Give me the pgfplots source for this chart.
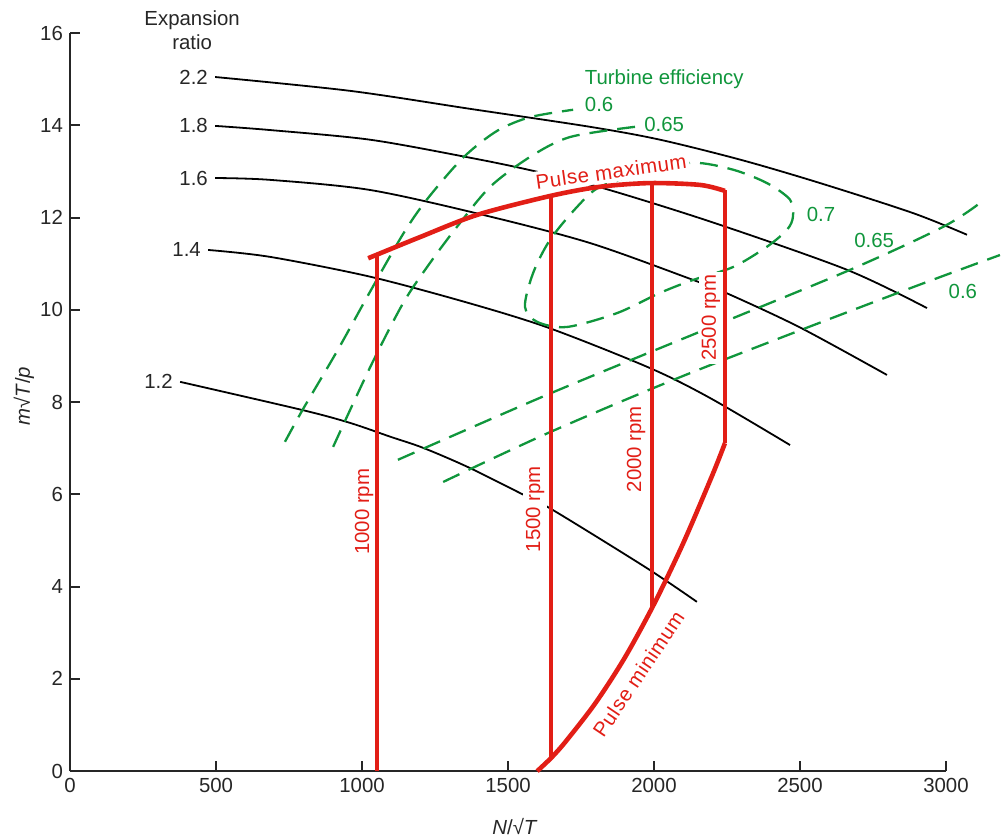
\documentclass[border=0pt]{standalone}
\usepackage{fontspec}
\setmainfont{Liberation Sans}
\usepackage{pgfplots}
\pgfplotsset{compat=1.18}
\definecolor{pred}{RGB}{226,30,22}
\definecolor{pgreen}{RGB}{16,150,60}
\begin{document}
\fontsize{10.2}{12}\selectfont
\begin{tikzpicture}
\begin{axis}[
 scale only axis, width=438pt, height=369pt,
 xmin=0,xmax=3000,ymin=0,ymax=16,
 axis x line*=bottom, axis y line*=left,
 axis line style={line width=1.2pt, black!85},
 xtick={0,500,...,3000}, ytick={0,2,...,16},
 tick align=inside, major tick length=5pt,
 tick style={line width=1pt, black!85},
 ticklabel style={font=\fontsize{10.2}{12}\selectfont, text=black!85},
 /pgf/number format/assume math mode=true,
 /pgf/number format/1000 sep={},
 clip=false,
]
% expansion ratio lines
\addplot[black, line width=0.9pt, smooth] coordinates {(497,15.05) (959,14.75) (1370,14.36) (1781,13.97) (2021,13.69) (2300,13.25) (2569,12.75) (2887,12.10) (3072,11.63)};
\addplot[black, line width=0.9pt, smooth] coordinates {(497,13.99) (685,13.90) (1028,13.69) (1370,13.30) (1576,13.03) (1815,12.66) (2200,11.90) (2661,10.87) (2935,10.04)};
\addplot[black, line width=0.9pt, smooth] coordinates {(497,12.86) (685,12.82) (1028,12.60) (1415,12.06) (1781,11.45) (2134,10.65) (2250,10.36) (2500,9.62) (2798,8.59)};
\addplot[black, line width=0.9pt, smooth] coordinates {(473,11.30) (685,11.15) (1028,10.72) (1365,10.15) (1644,9.60) (1986,8.74) (2192,8.09) (2466,7.07)};
\addplot[black, line width=0.9pt, smooth] coordinates {(377,8.44) (795,7.83) (959,7.55) (1097,7.25) (1209,7.01) (1360,6.60) (1541,6.03) (1654,5.66) (1976,4.40) (2147,3.67)};
% efficiency contours
\addplot[pgreen, line width=1.15pt, smooth, dash pattern=on 9pt off 5pt] coordinates {(736,7.14) (798,7.85) (914,9.1) (1028,10.4) (1141,11.65) (1223,12.4) (1346,13.3) (1462,13.88) (1576,14.18) (1723,14.34)};
\addplot[pgreen, line width=1.15pt, smooth, dash pattern=on 9pt off 5pt] coordinates {(901,7.03) (1028,8.76) (1141,10.15) (1233,11.02) (1325,11.80) (1439,12.67) (1576,13.32) (1713,13.75) (1935,13.97)};
\addplot[pgreen, line width=1.15pt, smooth, dash pattern=on 9pt off 5pt] coordinates {(1969,12.99) (2134,13.19) (2271,13.04) (2387,12.75) (2466,12.39) (2476,12.02) (2456,11.74) (2387,11.37) (2271,10.93) (2134,10.65) (2021,10.37) (1873,9.93) (1702,9.63) (1600,9.74) (1558,10.07) (1586,10.80) (1644,11.52) (1736,12.23) (1815,12.67) (1969,12.99)};
\addplot[pgreen, line width=1.15pt, smooth, dash pattern=on 9pt off 5pt] coordinates {(1123,6.75) (1634,8.16) (2147,9.50) (2672,10.87) (2990,11.80) (3117,12.32)};
\addplot[pgreen, line width=1.15pt, smooth, dash pattern=on 9pt off 5pt] coordinates {(1278,6.27) (1644,7.35) (2124,8.63) (2819,10.33) (3185,11.19)};
% masking labels
\node[fill=white, text=pred, rotate=8, inner sep=1.5pt] at (axis cs:1853,13.0) {\addfontfeature{LetterSpace=3}Pulse maximum};
\node[fill=white, text=pred, rotate=90, inner sep=1.5pt] at (axis cs:1007,5.62) {1000 rpm};
\node[fill=white, text=pred, rotate=90, inner sep=1.5pt] at (axis cs:1593,5.68) {1500 rpm};
\node[fill=white, text=pred, rotate=90, inner sep=1.5pt] at (axis cs:1939,6.98) {2000 rpm};
\node[fill=white, text=pred, rotate=90, inner sep=1.5pt] at (axis cs:2195,9.83) {2500 rpm};
\node[text=pred, rotate=56, inner sep=1pt] at (axis cs:1947,2.10) {\addfontfeature{LetterSpace=3}Pulse minimum};
% red lines
\addplot[pred, line width=2.3pt, smooth] coordinates {(1021,11.12) (1199,11.58) (1394,12.06) (1644,12.47) (1815,12.67) (1986,12.75) (2158,12.71) (2243,12.58)};
\addplot[pred, line width=2.1pt] coordinates {(1052,0) (1052,11.2)};
\addplot[pred, line width=2.1pt] coordinates {(1647,0.3) (1647,12.48)};
\addplot[pred, line width=2.1pt] coordinates {(1992,3.52) (1992,12.75)};
\addplot[pred, line width=2.1pt] coordinates {(2243,12.6) (2243,7.11)};
\addplot[pred, line width=2.3pt, smooth] coordinates {(1600,0) (1650,0.30) (1700,0.66) (1800,1.48) (1900,2.46) (2000,3.62) (2100,4.94) (2200,6.42) (2243,7.11)};
% texts
\node[align=center, text=black!85, inner sep=0pt] at (axis cs:418,16.06) {Expansion\\ratio};
\node[anchor=east, text=black!85, inner sep=3.5pt] at (axis cs:497,15.05) {2.2};
\node[anchor=east, text=black!85, inner sep=3.5pt] at (axis cs:497,13.99) {1.8};
\node[anchor=east, text=black!85, inner sep=3.5pt] at (axis cs:497,12.86) {1.6};
\node[anchor=east, text=black!85, inner sep=3.5pt] at (axis cs:473,11.30) {1.4};
\node[anchor=east, text=black!85, inner sep=3.5pt] at (axis cs:377,8.44) {1.2};
\node[text=pgreen] at (axis cs:2035,15.01) {Turbine efficiency};
\node[text=pgreen] at (axis cs:1812,14.45) {0.6};
\node[text=pgreen] at (axis cs:2035,14.01) {0.65};
\node[text=pgreen] at (axis cs:2572,12.06) {0.7};
\node[text=pgreen] at (axis cs:2754,11.50) {0.65};
\node[text=pgreen] at (axis cs:3058,10.41) {0.6};
\node[text=black!85] at (axis cs:1524,-1.21) {\textit{N}/√\textit{T}};
\node[text=black!85, rotate=90] at (axis cs:-158,8.13) {\textit{m}√\textit{T}/\textit{p}};
\coordinate (bbl) at (axis cs:-240,-1.453);
\coordinate (bbr) at (axis cs:3192,16.72);
\end{axis}
\pgfresetboundingbox
\path[use as bounding box] (bbl) rectangle (bbr);
\end{tikzpicture}
\end{document}
